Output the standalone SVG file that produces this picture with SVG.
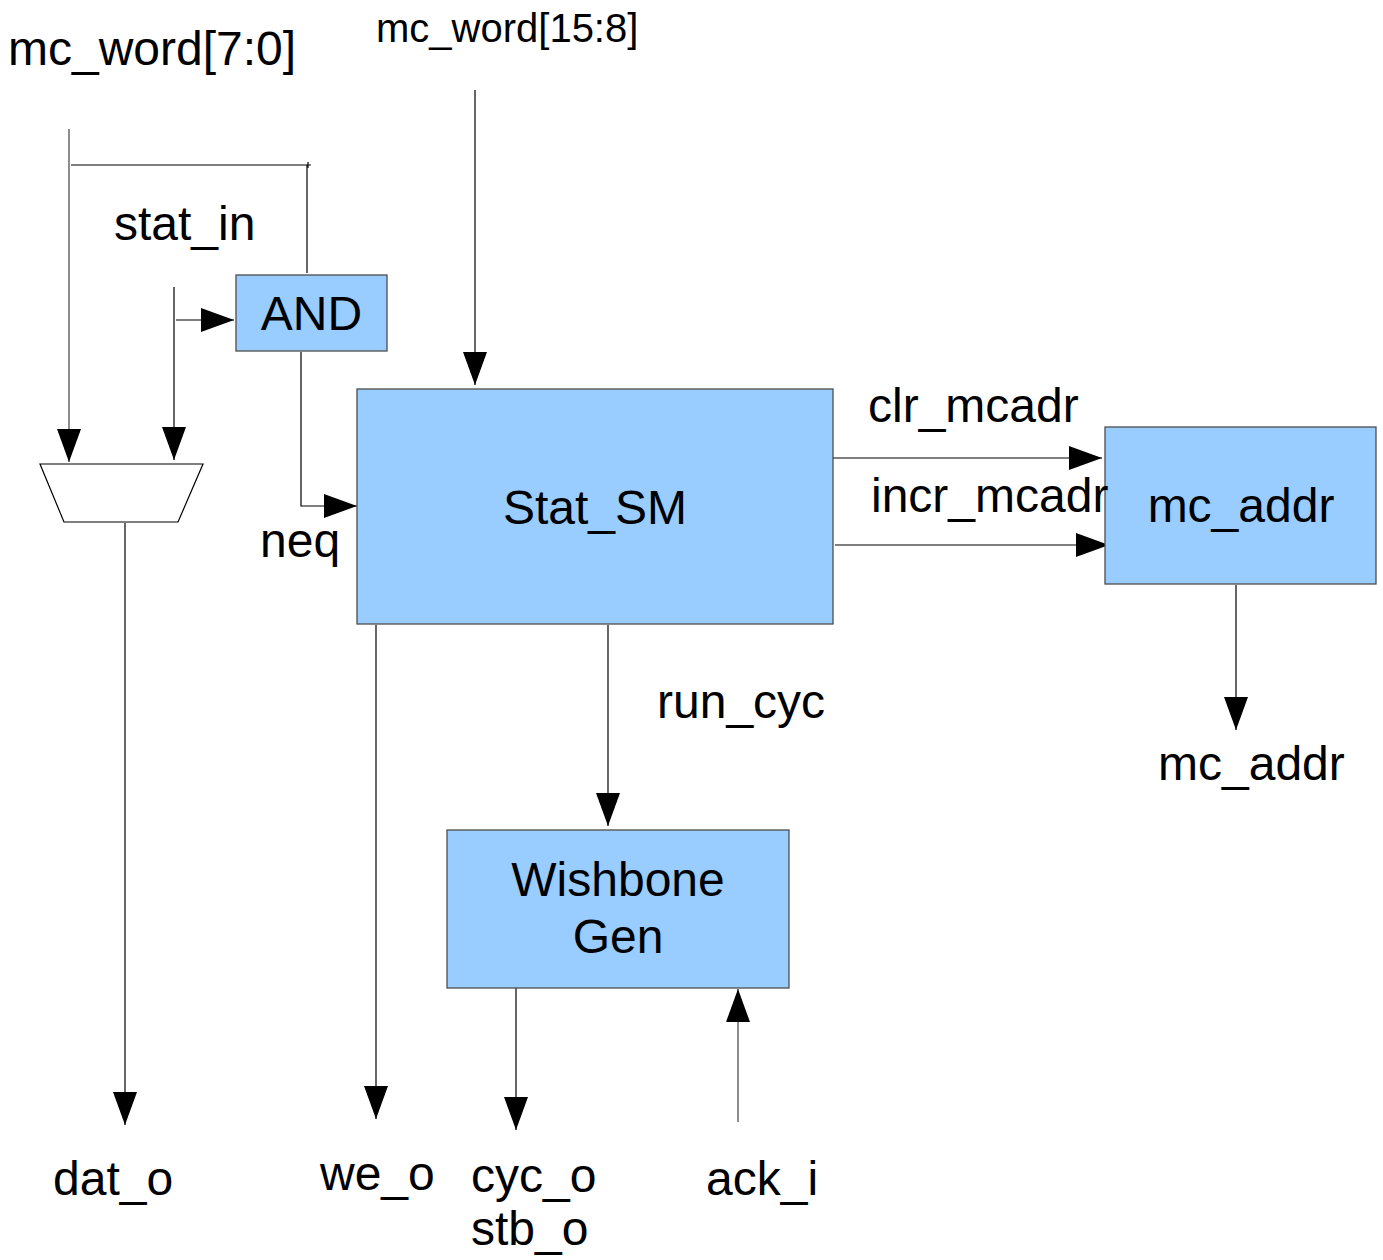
<svg xmlns="http://www.w3.org/2000/svg" width="1383" height="1260" viewBox="0 0 1383 1260">
  <style>
    .blk { fill: #99ccff; stroke: #4d4d4d; stroke-width: 1.3; }
    .w { stroke: #000; stroke-width: 1.2; fill: none; }
    .g { stroke: #707070; stroke-width: 1.6; fill: none; }
    .t { font-family: "Liberation Sans", Arial, sans-serif; font-size: 48px; fill: #000; }
    .s { font-family: "Liberation Sans", Arial, sans-serif; font-size: 40px; fill: #000; }
    .c { text-anchor: middle; }
  </style>
  <defs>
    <marker id="ah" markerUnits="userSpaceOnUse" markerWidth="34" markerHeight="24" viewBox="0 0 34 24" refX="33" refY="12" orient="auto">
      <path d="M0,0 L33,12 L0,24 Z" fill="#000"/>
    </marker>
  </defs>

  <!-- connectors -->
  <g id="connectors">
    <path class="g" d="M69,129 V462" marker-end="url(#ah)"/>
    <path class="w" d="M71,165 H311 M308,162 V168"/>
    <path class="w" d="M307,165 V273"/>
    <path class="w" d="M174,287 V460" marker-end="url(#ah)"/>
    <path class="w" d="M176,320 H234" marker-end="url(#ah)"/>
    <path class="w" d="M301,352 V506 H357" marker-end="url(#ah)"/>
    <path class="w" d="M475,90 V385" marker-end="url(#ah)"/>
    <path class="w" d="M828,458 H1102" marker-end="url(#ah)"/>
    <path class="w" d="M835,545 H1109" marker-end="url(#ah)"/>
    <path class="w" d="M1236,585 V730" marker-end="url(#ah)"/>
    <path class="w" d="M125,523 V1125" marker-end="url(#ah)"/>
    <path class="w" d="M376,625 V1119" marker-end="url(#ah)"/>
    <path class="w" d="M608,625 V826" marker-end="url(#ah)"/>
    <path class="w" d="M516,986 V1130" marker-end="url(#ah)"/>
    <path class="g" d="M738,1122 V989" marker-end="url(#ah)"/>
  </g>

  <!-- multiplexer -->
  <g id="mux">
    <path d="M40,464 H203 L178,522 H64 Z" fill="#fff" stroke="#000" stroke-width="1.2"/>
  </g>

  <g id="and">
    <rect class="blk" x="236" y="275" width="151" height="76"/>
    <text class="t c" x="311.5" y="330">AND</text>
  </g>

  <g id="stat_sm">
    <rect class="blk" x="357" y="389" width="476" height="235"/>
    <text class="t c" x="595" y="524">Stat_SM</text>
  </g>

  <g id="mc_addr">
    <rect class="blk" x="1105" y="427" width="271" height="157"/>
    <text class="t c" x="1241" y="522">mc_addr</text>
  </g>

  <g id="wishbone">
    <rect class="blk" x="447" y="830" width="342" height="158"/>
    <text class="t c" x="618" y="896">Wishbone</text>
    <text class="t c" x="618" y="953">Gen</text>
  </g>

  <!-- signal labels -->
  <g id="labels">
    <text class="t" x="8" y="65">mc_word[7:0]</text>
    <text class="s" x="376" y="42">mc_word[15:8]</text>
    <text class="t" x="114" y="240">stat_in</text>
    <text class="t" x="260" y="557">neq</text>
    <text class="t" x="868" y="422">clr_mcadr</text>
    <text class="t" x="871" y="512">incr_mcadr</text>
    <text class="t" x="657" y="718">run_cyc</text>
    <text class="t" x="1158" y="780">mc_addr</text>
    <text class="t" x="53" y="1195">dat_o</text>
    <text class="t" x="320" y="1190">we_o</text>
    <text class="t" x="471" y="1192">cyc_o</text>
    <text class="t" x="471" y="1245">stb_o</text>
    <text class="t" x="706" y="1195">ack_i</text>
  </g>
</svg>
